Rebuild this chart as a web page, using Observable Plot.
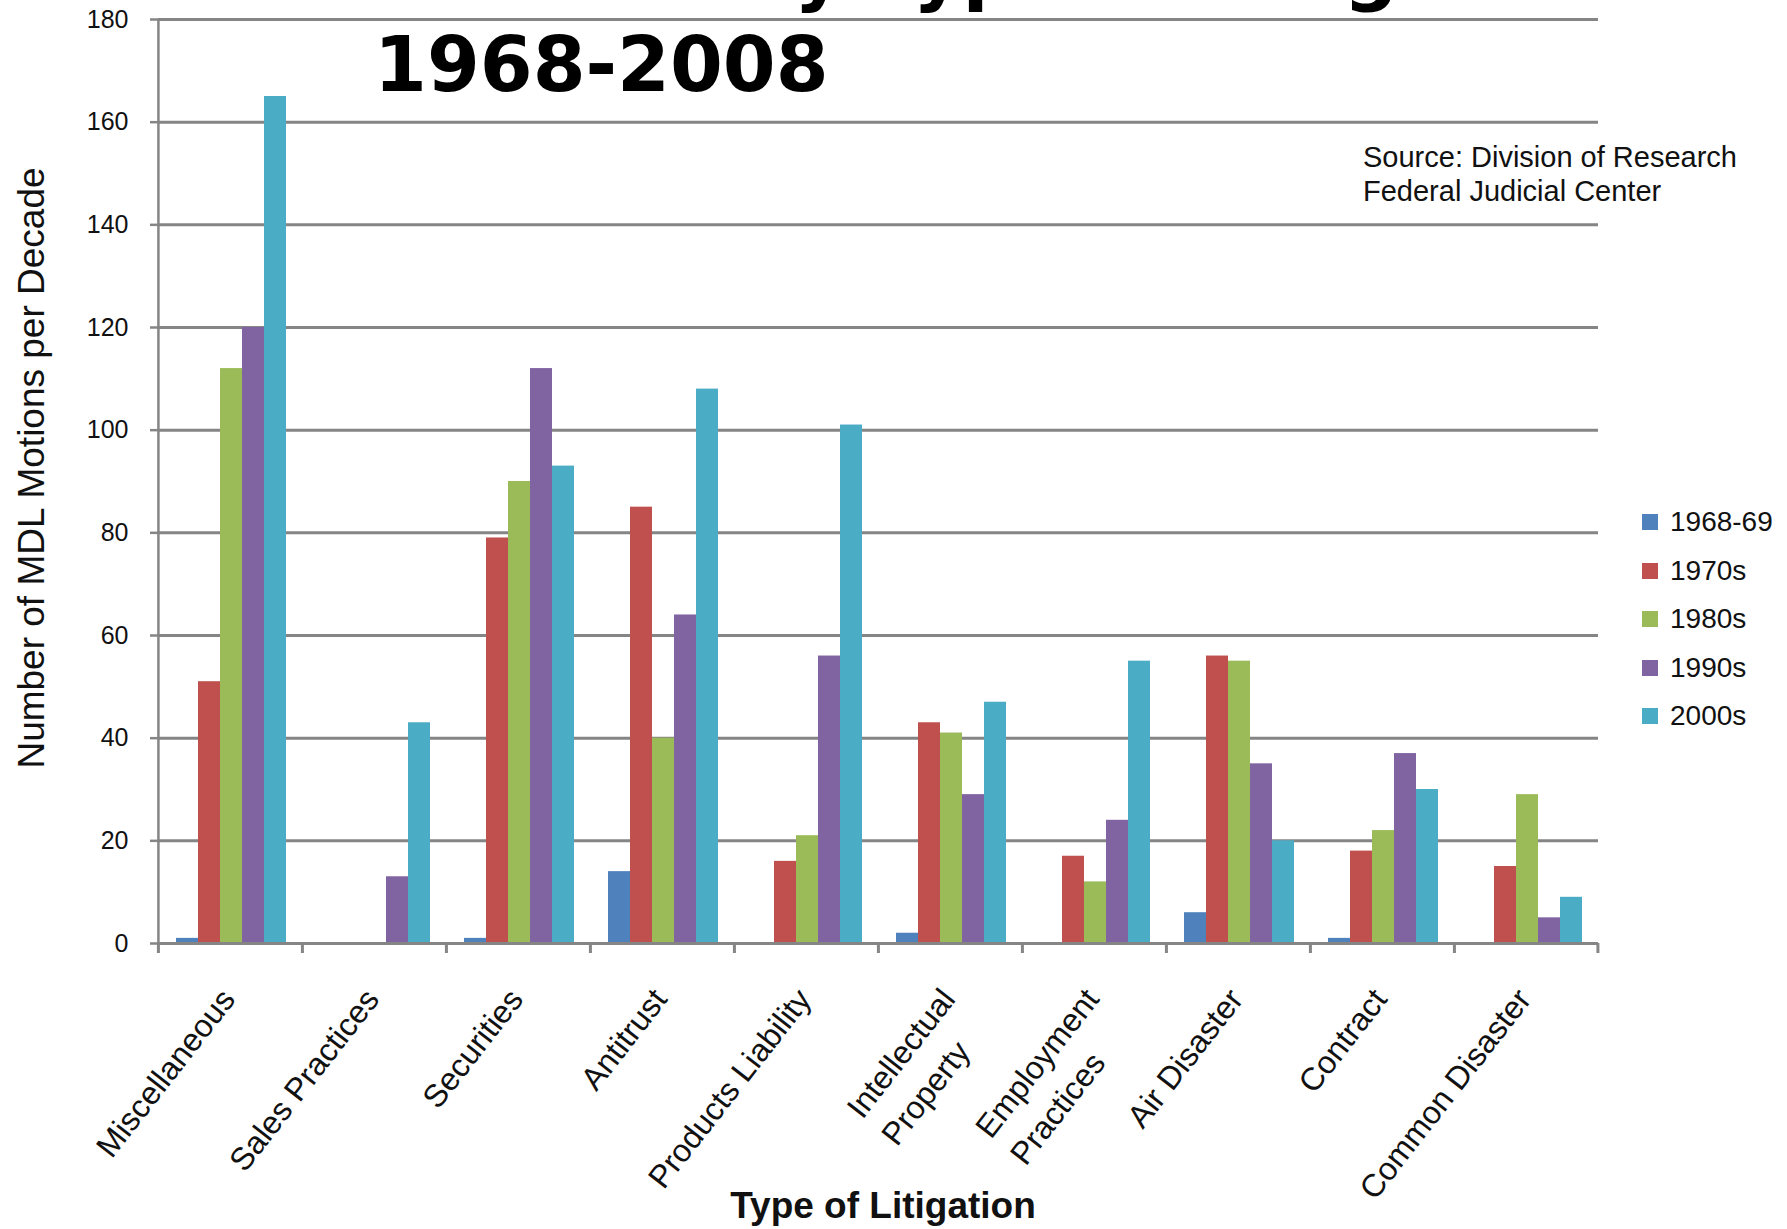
<!DOCTYPE html>
<html>
<head>
<meta charset="utf-8">
<script src="https://cdn.jsdelivr.net/npm/d3@7"></script>
<script src="https://cdn.jsdelivr.net/npm/@observablehq/plot@0.6"></script>
<style>
  body { margin: 0; background: #fff; }
  #wrap { position: relative; width: 1787px; height: 1229px; overflow: hidden; font-family: "Liberation Sans", Arial, sans-serif; color: #000; }
  #chart { position: absolute; left: 0; top: 0; }
  .title { position: absolute; font-family: "DejaVu Sans", Verdana, sans-serif; font-weight: bold; font-size: 76px; line-height: 76px; white-space: nowrap; color: #000; }
  .source { position: absolute; left: 1363px; top: 140px; font-size: 29px; line-height: 34px; white-space: nowrap; color: #111; }
  .ytitle { position: absolute; left: 32px; top: 468px; transform: translate(-50%, -50%) rotate(-90deg); font-size: 37px; white-space: nowrap; color: #111; }
  .xtitle { position: absolute; left: 883px; top: 1206px; transform: translate(-50%, -50%); font-size: 37px; font-weight: bold; white-space: nowrap; color: #111; }
  .legend { position: absolute; left: 1642px; top: 498px; }
  .legend .row { display: flex; align-items: center; height: 48.5px; font-size: 28px; color: #111; }
  .legend .sw { width: 16px; height: 16px; margin-right: 12px; }
</style>
</head>
<body>
<div id="wrap"></div>
<script>
// ---- data ----
const categories = ["Miscellaneous", "Sales Practices", "Securities", "Antitrust", "Products Liability",
  "Intellectual\nProperty", "Employment\nPractices", "Air Disaster", "Contract", "Common Disaster"];
const decades = ["1968-69", "1970s", "1980s", "1990s", "2000s"];
const s1968 = [1, 0, 1, 14, 0, 2, 0, 6, 1, 0];
const s1970 = [51, 0, 79, 85, 16, 43, 17, 56, 18, 15];
const s1980 = [112, 0, 90, 40, 21, 41, 12, 55, 22, 29];
const s1990 = [120, 13, 112, 64, 56, 29, 24, 35, 37, 5];
const s2000 = [165, 43, 93, 108, 101, 47, 55, 20, 30, 9];
const yTicks = [0, 20, 40, 60, 80, 100, 120, 140, 160, 180];
const colors = ["#4F81BD", "#C0504D", "#9BBB59", "#8064A2", "#4BACC6"];
const titleLine1 = "MDL Motions by Type of Litigation";
const titleLine2 = "1968-2008";
const sourceLines = ["Source: Division of Research", "Federal Judicial Center"];
const yTitle = "Number of MDL Motions per Decade";
const xTitle = "Type of Litigation";

const series = [s1968, s1970, s1980, s1990, s2000];
const rows = [];
categories.forEach((c, i) => decades.forEach((d, j) => rows.push({category: c, decade: d, value: series[j][i]})));

// ---- layout ----
const W = 1787, H = 1229;
const mL = 156, mR = 188, mT = 19, mB = 286;
const padOuter = 0.75, align = 0.54;
const facetW = (W - mL - mR) / categories.length;
const step = facetW / (decades.length + 2 * padOuter);
const leftSlack = (facetW - step * decades.length) * align;
const offFirst = leftSlack + step / 2;
const offLast = facetW - (leftSlack + step * (decades.length - 0.5));
const grey = "#858585";

// rotated category labels: first line end-anchored, second line left-aligned under it
const labelFont = 32, labelRot = -52, labelPad = 50, labelDx = -2, lineGap = 44;
const ctx = document.createElement("canvas").getContext("2d");
ctx.font = `${labelFont}px "Liberation Sans"`;
const rad = labelRot * Math.PI / 180;
const along = [Math.cos(rad), Math.sin(rad)];   // text direction
const perp = [-Math.sin(rad), Math.cos(rad)];   // next-line direction
const firstLine = d => d.split("\n")[0];
const secondLineMarks = categories.filter(c => c.includes("\n")).map(c => {
  const w1 = ctx.measureText(firstLine(c)).width;
  const dx = labelDx - w1 * along[0] + lineGap * perp[0];
  const dy = labelPad - w1 * along[1] + lineGap * perp[1];
  return Plot.text([c], {fx: d => d, text: d => d.split("\n")[1], frameAnchor: "bottom",
    rotate: labelRot, textAnchor: "start", lineAnchor: "middle", fontSize: labelFont, fill: "#111", dx, dy});
});

const chart = Plot.plot({
  width: W, height: H,
  marginLeft: mL, marginRight: mR, marginTop: mT, marginBottom: mB,
  style: {fontFamily: "Liberation Sans, Arial, sans-serif", color: "#111", background: "#fff"},
  fx: {domain: categories, padding: 0},
  x: {domain: decades, paddingInner: 0, paddingOuter: padOuter, align, axis: null},
  y: {domain: [0, 180]},
  color: {domain: decades, range: colors},
  marks: [
    Plot.gridY(yTicks, {stroke: grey, strokeOpacity: 1, strokeWidth: 3}),
    Plot.barY(rows, {fx: "category", x: "decade", y: "value", fill: "decade"}),
    Plot.ruleY([0], {stroke: grey, strokeWidth: 3}),
    Plot.ruleX(categories, {fx: d => d, x: () => decades[0], dx: -offFirst, y1: 0, y2: 0, insetBottom: -10, stroke: grey, strokeWidth: 3}),
    Plot.ruleX([categories[categories.length - 1]], {fx: d => d, x: () => decades[decades.length - 1], dx: offLast, y1: 0, y2: 0, insetBottom: -10, stroke: grey, strokeWidth: 3}),
    Plot.ruleX([categories[0]], {fx: d => d, x: () => decades[0], dx: -offFirst, y1: 180, y2: 0, stroke: grey, strokeWidth: 2.5}),
    Plot.axisY(yTicks, {tickSize: 8, tickPadding: 22, fontSize: 25, stroke: grey, strokeWidth: 2.5, label: null}),
    Plot.axisFx({anchor: "bottom", tickRotate: labelRot, tickSize: 0, tickPadding: labelPad, fontSize: labelFont,
      label: null, dx: labelDx, tickFormat: firstLine}),
    ...secondLineMarks
  ]
});
chart.id = "chart";

const wrap = document.getElementById("wrap");
wrap.appendChild(chart);

function addDiv(cls, text, style) {
  const d = document.createElement("div");
  d.className = cls;
  d.textContent = text;
  if (style) Object.assign(d.style, style);
  wrap.appendChild(d);
  return d;
}
addDiv("title", titleLine1, {left: "158px", top: "-68px"});
addDiv("title", titleLine2, {left: "374px", top: "27px"});
const src = addDiv("source", "");
sourceLines.forEach(t => { const l = document.createElement("div"); l.textContent = t; src.appendChild(l); });
addDiv("ytitle", yTitle);
addDiv("xtitle", xTitle);
const leg = addDiv("legend", "");
decades.forEach((d, j) => {
  const r = document.createElement("div"); r.className = "row";
  const s = document.createElement("span"); s.className = "sw"; s.style.background = colors[j];
  const t = document.createElement("span"); t.textContent = d;
  r.appendChild(s); r.appendChild(t); leg.appendChild(r);
});
</script>
</body>
</html>
